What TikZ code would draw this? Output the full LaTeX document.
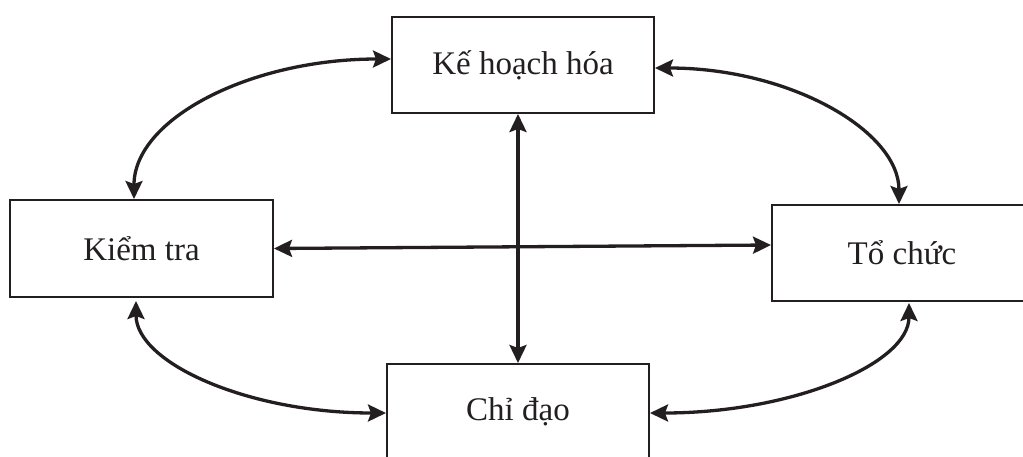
\documentclass[tikz,border=0pt]{standalone}
\usepackage{fontspec}
\setmainfont{Liberation Serif}
\usetikzlibrary{arrows.meta}
\definecolor{ink}{HTML}{231F20}
\tikzset{
  stage/.style={draw=ink, line width=2pt, fill=white, minimum width=262pt,
    minimum height=96pt, inner sep=0pt, text=ink,
    font=\fontsize{33}{38}\selectfont},
  link/.style={draw=ink, line width=3.3pt,
    {Stealth[length=18pt,width=17pt,inset=3pt]}-{Stealth[length=18pt,width=17pt,inset=3pt]}}
}
\begin{document}
\begin{tikzpicture}[x=1pt,y=-1pt]
  \useasboundingbox (0,0) rectangle (1023,456);
  \fill[white] (0,0) rectangle (1023,456);
  \clip (0,0) rectangle (1023,456);

  % the four management functions
  \node[stage] (plan)  at (523,65)    {Kế hoạch hóa};
  \node[stage, minimum width=263pt, minimum height=97pt] (check) at (141.5,248.5) {Kiểm tra};
  \node[stage, minimum width=260pt] (org)   at (902,253)   {Tổ chức};
  \node[stage] (lead)  at (518,412)   {Chỉ đạo};

  % curved links between neighbouring functions
  \draw[link] ([yshift=6pt]plan.west)
     .. controls +(-141,0) and +(0,-80) .. ([xshift=-7.5pt]check.north);
  \draw[link] ([yshift=-3pt]plan.east)
     .. controls +(135,0) and +(0,-73) .. ([xshift=-3pt]org.north);
  \draw[link] ([xshift=-5.5pt,yshift=-3pt]check.south)
     .. controls +(0,62) and +(-138,0) .. ([yshift=-1pt]lead.west);
  \draw[link] ([yshift=-1pt]lead.east)
     .. controls +(142,0) and +(0,61) .. ([xshift=7pt,yshift=-1pt]org.south);

  % straight links through the middle
  \draw[link] (plan.south -| lead.north) -- (lead.north);
  \draw[link] (check.east) -- ([yshift=8pt]org.west);
\end{tikzpicture}
\end{document}
